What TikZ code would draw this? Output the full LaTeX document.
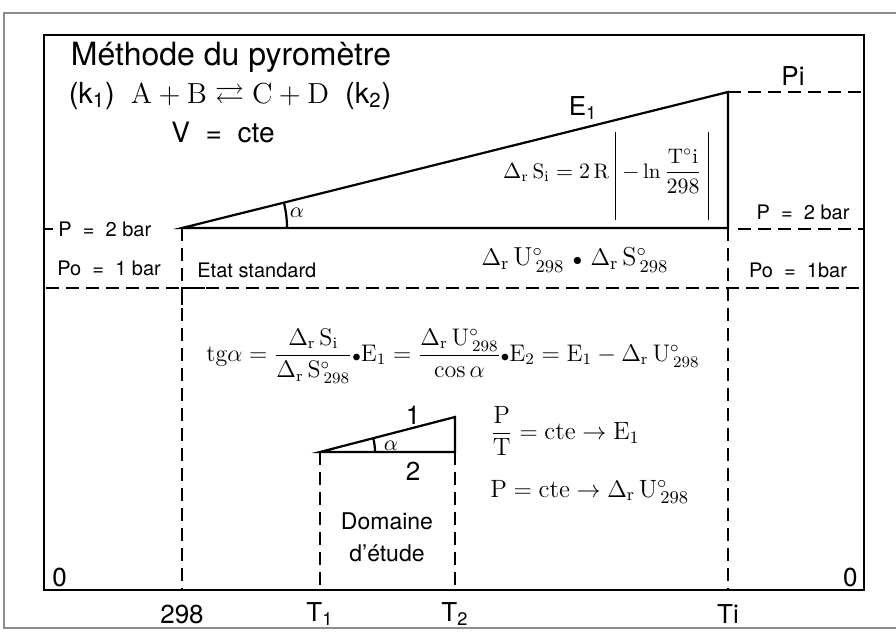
\documentclass[tikz,border=0pt]{standalone}
\usepackage{amsmath,amssymb}
\usepackage{fontspec}
\setsansfont{TeX Gyre Heros}
\usetikzlibrary{calc}
\tikzset{frame/.style={line width=1.1pt},
 dashline/.style={line width=1pt,dash pattern=on 6.5pt off 3.5pt},
 lab/.style={font=\sffamily\fontsize{10}{12}\selectfont,inner sep=0pt},
 big/.style={font=\sffamily\fontsize{13}{16}\selectfont,inner sep=0pt},
 eq/.style={font=\fontsize{12}{14}\selectfont,inner sep=0pt}}
\newcommand{\dr}{\Delta_{\mathrm r}\,}
\newcommand{\absbar}{\vrule width 0.5pt height 23pt depth 21pt}

\begin{document}
\begin{tikzpicture}[x=0.5pt,y=-0.5pt]
 \useasboundingbox (0,0) rectangle (896,632);
 \coordinate (f1) at (4,13); \coordinate (f2) at (896,13);
 \coordinate (f3) at (4,628); \coordinate (f4) at (896,628);
 \draw[black!45,line width=0.6pt] (f2) -- (f1) -- (f3) -- (f4);
 \coordinate (tl) at (44,35); \coordinate (br) at (864,590);
 \draw[frame] (tl) rectangle (br);

 \coordinate (a) at (182,228); \coordinate (b) at (728,228); \coordinate (c) at (728,92);
 \draw[frame,line join=miter] (a) -- (b) -- (c) -- cycle;
 \draw[frame] ($(a)+(105,0)$) arc[start angle=0,end angle=14,radius=52.5pt];
 \coordinate (s1) at (320,452); \coordinate (s2) at (455,452); \coordinate (s3) at (455,417);
 \draw[frame,line join=miter] (s1) -- (s2) -- (s3) -- cycle;
 \draw[frame] ($(s1)+(55,0)$) arc[start angle=0,end angle=14.5,radius=27.5pt];

 \foreach \x/\name/\txt in {182/t0/298,320/t1/T\textsubscript{1},455/t2/T\textsubscript{2},728/ti/Ti}{
  \coordinate (\name) at (\x,590);
  \node[big] (\name l) at (\x,614) {\txt};
 }
 \draw[dashline] (a) -- (t0);
 \draw[dashline] (b) -- (ti);
 \draw[dashline] (s1) -- (t1);
 \draw[dashline] (s2) -- (t2);

 \coordinate (h1) at (46,288); \coordinate (h2) at (864,288);
 \coordinate (h3) at (738,229); \coordinate (h4) at (864,229);
 \coordinate (h5) at (864,92);
 \draw[dashline] (h1) -- (h2);
 \draw[dashline] (h3) -- (h4);
 \draw[dashline] (c) -- (h5);
 \coordinate (k) at (182,288);
 \draw[frame] ($(k)+(23,0)$) -- (k) -- ++(0,17);
 \coordinate (g1) at (44,229); \coordinate (g2) at (53,229);
 \draw[frame] (g1) -- (g2);

 \node[big,font=\sffamily\fontsize{16}{18}\selectfont] (titre) at (231,57) {Méthode du pyromètre};
 \node[big,font=\sffamily\fontsize{14.5}{16}\selectfont] (react) at (230,96)
  {(k\textsubscript{1})\ \ $\mathrm{A}+\mathrm{B}\rightleftarrows\mathrm{C}+\mathrm{D}$\ \ (k\textsubscript{2})};
 \node[big,font=\sffamily\fontsize{14}{16}\selectfont] (vcte) at (223,133) {V\ \ =\ \ cte};

 \node[big] (e1) at (583,108) {E\textsubscript{1}};
 \node[big] (pi) at (793,76) {Pi};
 \node[lab] (p2r) at (803,212) {P\ \ =\ \ 2 bar};
 \node[lab] (por) at (798,270) {Po\ \ =\ \ 1bar};
 \node[lab,anchor=west] (p2l) at (58,229) {P\ \ =\ \ 2 bar};
 \node[lab,anchor=west] (pol) at (57,268) {Po\ \ =\ \ 1 bar};
 \node[lab,anchor=west] (etat) at (197,270) {Etat standard};
 \node[big,anchor=west] (o1) at (52,577) {0};
 \node[big,anchor=east] (o2) at (858,577) {0};
 \node[big] (n1) at (413,415) {1};
 \node[big] (n2) at (413,471) {2};
 \node[big,font=\sffamily\fontsize{11.5}{16}\selectfont,align=center] (dom) at (387,537) {Domaine\\d'étude};
 \node[eq,font=\fontsize{10.5}{12}\selectfont] (al1) at (297,213) {$\alpha$};
 \node[eq,font=\fontsize{10.5}{12}\selectfont] (al2) at (391,446) {$\alpha$};

 \node[eq,font=\fontsize{10.5}{12}\selectfont] (dsi) at (606,176)
  {$\dr\mathrm{S_i}=2\,\mathrm{R}\;\absbar\;{-}\ln\dfrac{\mathrm{T}^{\circ}\mathrm{i}}{298}\;\absbar$};
 \node[eq,font=\fontsize{13}{14}\selectfont] (dus) at (575,260)
  {$\dr\mathrm{U}^{\circ}_{\,298}\ {\scriptstyle\bullet}\ \dr\mathrm{S}^{\circ}_{\,298}$};
 \node[eq] (tga) at (453,356)
  {$\mathrm{tg}\alpha=\dfrac{\dr\mathrm{S_i}}{\dr\mathrm{S}^{\circ}_{\,298}}{\scriptstyle\bullet}\mathrm{E_1}=\dfrac{\dr\mathrm{U}^{\circ}_{\,298}}{\cos\alpha}{\scriptstyle\bullet}\mathrm{E_2}=\mathrm{E_1}-\dr\mathrm{U}^{\circ}_{\,298}$};
 \node[eq,font=\fontsize{12.5}{14}\selectfont,anchor=west] (pt) at (490,431) {$\dfrac{\mathrm P}{\mathrm T}=\mathrm{cte}\rightarrow\mathrm{E_1}$};
 \node[eq,font=\fontsize{12.5}{14}\selectfont,anchor=base west] (pc) at (490,497) {$\mathrm P=\mathrm{cte}\rightarrow\dr\mathrm{U}^{\circ}_{\,298}$};
\end{tikzpicture}
\end{document}
